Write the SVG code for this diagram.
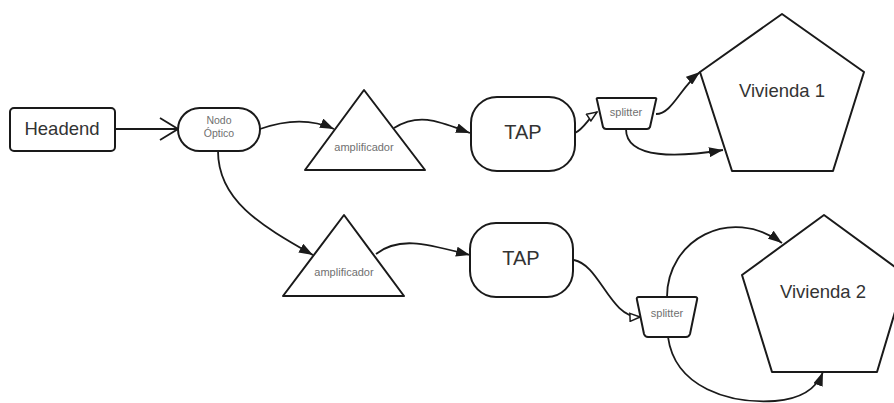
<svg xmlns="http://www.w3.org/2000/svg" width="894" height="403" viewBox="0 0 894 403">
  <style>
    .shape { fill: #ffffff; stroke: #1a1a1a; stroke-width: 2; stroke-linejoin: round; }
    .edge { fill: none; stroke: #1a1a1a; stroke-width: 1.8; }
    .big { font-family: "Liberation Sans", Arial, sans-serif; font-size: 18.5px; fill: #333333; text-anchor: middle; }
    .tap { font-family: "Liberation Sans", Arial, sans-serif; font-size: 20px; fill: #333333; text-anchor: middle; }
    .small { font-family: "Liberation Sans", Arial, sans-serif; font-size: 11px; fill: #707070; text-anchor: middle; }
  </style>
  <defs>
    <marker id="solid" viewBox="0 0 14 10" refX="14" refY="5" markerWidth="14" markerHeight="10" markerUnits="userSpaceOnUse" orient="auto">
      <path d="M0,0 L14,5 L0,10 Z" fill="#1a1a1a"/>
    </marker>
    <marker id="hollow" viewBox="0 0 12 10" refX="11" refY="5" markerWidth="12" markerHeight="10" markerUnits="userSpaceOnUse" orient="auto">
      <path d="M1,1 L11,5 L1,9 Z" fill="#ffffff" stroke="#1a1a1a" stroke-width="1.5"/>
    </marker>
    <marker id="open" viewBox="0 0 20 24" refX="19" refY="12" markerWidth="20" markerHeight="24" markerUnits="userSpaceOnUse" orient="auto">
      <path d="M1,1 L19,12 L1,23" fill="none" stroke="#1a1a1a" stroke-width="1.8"/>
    </marker>
  </defs>

  <g id="connectors">
    <path class="edge" d="M115,129 L178,129" marker-end="url(#open)"/>
    <path class="edge" d="M260,129 C285,120 310,118 334,129" marker-end="url(#solid)"/>
    <path class="edge" d="M394,128 C420,112 440,122 470,133" marker-end="url(#solid)"/>
    <path class="edge" d="M575,133 C585,128 588,118 597,112" marker-end="url(#hollow)"/>
    <path class="edge" d="M656,114 C672,114 680,88 700,72" marker-end="url(#solid)"/>
    <path class="edge" d="M626,129 C626,160 680,157 723,150" marker-end="url(#solid)"/>
    <path class="edge" d="M218,151 C218,200 260,225 313,255" marker-end="url(#solid)"/>
    <path class="edge" d="M376,254 C400,235 430,245 470,255" marker-end="url(#solid)"/>
    <path class="edge" d="M574,260 C600,265 610,318 640,317" marker-end="url(#hollow)"/>
    <path class="edge" d="M667,297 C667,240 730,205 782,243" marker-end="url(#solid)"/>
    <path class="edge" d="M668,337 C675,388 730,404 775,401 C800,399 816,390 823,372" marker-end="url(#solid)"/>
  </g>

  <g id="headend">
    <rect class="shape" x="10" y="108" width="105" height="43" rx="4"/>
    <text class="big" x="62" y="135">Headend</text>
  </g>

  <g id="nodo-optico">
    <rect class="shape" x="178" y="108" width="82" height="43" rx="21.5"/>
    <text class="small" x="219" y="124" style="font-size:10.5px">Nodo</text>
    <text class="small" x="219" y="137" style="font-size:10.5px">Óptico</text>
  </g>

  <g id="amplificador-1">
    <path class="shape" d="M364,90 L425,170 L305,170 Z"/>
    <text class="small" x="364" y="151">amplificador</text>
  </g>

  <g id="tap-1">
    <rect class="shape" x="471" y="97" width="104" height="74" rx="26"/>
    <text class="tap" x="523" y="139">TAP</text>
  </g>

  <g id="splitter-1">
    <path class="shape" d="M598,98 L655,98 Q657,98 656,100 L650,127 Q649,129 647,129 L606,129 Q604,129 603,127 L597,100 Q596,98 598,98 Z"/>
    <text class="small" x="626" y="116">splitter</text>
  </g>

  <g id="vivienda-1">
    <path class="shape" d="M782,14 L864,72 L833,171 L732,171 L700,72 Z"/>
    <text class="big" x="782" y="97">Vivienda 1</text>
  </g>

  <g id="amplificador-2">
    <path class="shape" d="M344,215 L404,296 L283,296 Z"/>
    <text class="small" x="344" y="276">amplificador</text>
  </g>

  <g id="tap-2">
    <rect class="shape" x="470" y="223" width="103" height="74" rx="26"/>
    <text class="tap" x="521" y="265">TAP</text>
  </g>

  <g id="splitter-2">
    <path class="shape" d="M639,297 L695,297 Q698,297 697,300 L690,334 Q689,337 686,337 L648,337 Q645,337 644,334 L637,300 Q636,297 639,297 Z"/>
    <text class="small" x="667" y="317">splitter</text>
  </g>

  <g id="vivienda-2">
    <path class="shape" d="M824,215 L906,275 L877,372 L772,372 L742,275 Z"/>
    <text class="big" x="823" y="298">Vivienda 2</text>
  </g>
</svg>
